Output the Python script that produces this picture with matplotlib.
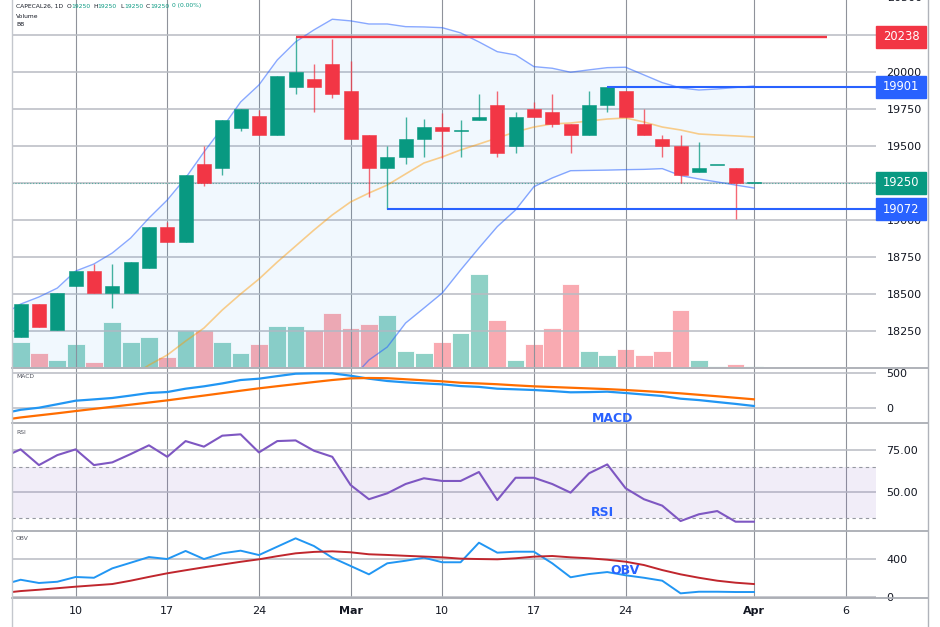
import numpy as np
import matplotlib.pyplot as plt
from matplotlib.lines import Line2D
from matplotlib.patches import Rectangle
from matplotlib.transforms import blended_transform_factory

W, H = 940, 627
X0, X1 = 12, 876          # plot area in pixels (left / right)
TXT = "#131722"
GREEN = "#089981"
RED = "#f23645"
BLUE = "#2962ff"
GRID_H = "#b8bbc2"
GRID_V = "#8f929a"

# ---------------- data ----------------
# candles: bar 0 = first visible session, bar 40 = Apr 1
opens = [18207, 18430, 18257, 18554, 18655, 18505, 18505, 18676, 18951, 18853,
         19376, 19349, 19624, 19700, 19574, 19899, 19950, 20052, 19874, 19576,
         19349, 19426, 19549, 19626, 19600, 19676, 19775, 19502, 19748, 19728,
         19649, 19574, 19777, 19874, 19649, 19549, 19500, 19324, 19374, 19353,
         19250]
highs = [18430, 18430, 18505, 18655, 18700, 18700, 18716, 18951, 18984, 19304,
         19502, 19676, 19748, 19743, 19973, 20238, 20054, 20221, 20074, 19576,
         19500, 19698, 19680, 19721, 19676, 19851, 19874, 19728, 19800, 19851,
         19649, 19872, 19901, 19874, 19748, 19576, 19576, 19527, 19374, 19353,
         19250]
lows = [18207, 18280, 18257, 18554, 18505, 18407, 18505, 18676, 18853, 18853,
        19230, 19304, 19601, 19574, 19574, 19853, 19730, 19826, 19550, 19153,
        19072, 19378, 19428, 19417, 19428, 19676, 19428, 19455, 19698, 19626,
        19455, 19574, 19728, 19698, 19574, 19428, 19252, 19324, 19374, 19005,
        19250]
closes = [18430, 18280, 18505, 18655, 18505, 18554, 18716, 18951, 18853, 19304,
          19252, 19676, 19748, 19574, 19973, 20000, 19899, 19849, 19550, 19349,
          19428, 19549, 19626, 19600, 19600, 19698, 19451, 19698, 19698, 19649,
          19574, 19777, 19901, 19698, 19574, 19502, 19302, 19353, 19374, 19250,
          19250]
volumes = [56, 31, 15, 50, 11, 99, 55, 65, 21, 81, 81, 55, 31, 50, 91, 91, 81,
           119, 86, 95, 114, 35, 31, 55, 75, 204, 104, 15, 51, 86, 183, 35, 27,
           40, 27, 35, 125, 15, 3, 7, 2]

# indicators start one bar earlier (bar -1, cut by the left edge)
bb_upper = [18358, 18432, 18480, 18540, 18655, 18703, 18777, 18878, 19013, 19135,
            19284, 19459, 19622, 19797, 19912, 20081, 20203, 20284, 20356, 20345,
            20324, 20324, 20306, 20304, 20299, 20264, 20203, 20137, 20115, 20036,
            20025, 19998, 20014, 20029, 20032, 19980, 19928, 19892, 19878, 19885,
            19895, 19905]
bb_basis = [17580, 17610, 17650, 17690, 17740, 17800, 17860, 17940, 18020, 18088,
            18182, 18270, 18392, 18500, 18601, 18716, 18824, 18932, 19034, 19122,
            19182, 19236, 19311, 19385, 19426, 19473, 19513, 19554, 19595, 19628,
            19649, 19655, 19669, 19682, 19689, 19662, 19628, 19608, 19581, 19574,
            19568, 19561]
bb_lower = [16800, 16780, 16760, 16720, 16700, 16700, 16710, 16730, 16800, 16880,
            16960, 17050, 17100, 17200, 17300, 17420, 17580, 17710, 17820, 17920,
            18054, 18142, 18304, 18405, 18507, 18662, 18811, 18955, 19068, 19225,
            19284, 19333, 19335, 19337, 19340, 19342, 19347, 19300, 19277, 19257,
            19236, 19216]
macd = [-85, -30, 0, 50, 101, 120, 140, 175, 212, 226, 274, 308, 350, 399, 418,
        455, 490, 495, 495, 461, 418, 385, 365, 350, 337, 312, 300, 274, 265, 255,
        240, 222, 225, 231, 212, 190, 169, 130, 110, 82, 55, 25]
signal = [-178, -140, -110, -80, -48, -17, 14, 44, 75, 106, 141, 175, 210, 245,
          279, 310, 340, 370, 399, 423, 428, 425, 410, 395, 380, 360, 350, 338,
          322, 308, 298, 288, 278, 268, 255, 240, 224, 207, 186, 165, 143, 121]
rsi = [70.5, 75.4, 66.1, 72.0, 75.4, 66.1, 67.7, 72.6, 77.8, 71.0, 80.3, 77.0,
       83.5, 84.3, 73.6, 80.3, 80.7, 74.6, 71.0, 54.3, 45.9, 49.4, 54.9, 58.3,
       56.7, 56.7, 62.0, 45.4, 58.6, 58.6, 54.9, 49.8, 61.2, 66.5, 52.4, 45.9,
       42.1, 33.0, 37.0, 38.9, 32.6, 32.6]
obv = [130, 185, 151, 164, 214, 206, 305, 364, 424, 403, 488, 403, 463, 491, 445,
       533, 621, 540, 417, 330, 242, 358, 385, 417, 369, 369, 575, 470, 480, 480,
       358, 211, 245, 266, 232, 206, 175, 42, 59, 59, 56, 56]
obv_ma = [45, 66, 80, 96, 112, 126, 140, 175, 215, 253, 285, 316, 345, 374, 400,
          433, 463, 478, 484, 474, 453, 446, 437, 429, 421, 407, 403, 400, 411,
          428, 435, 421, 411, 396, 375, 340, 287, 242, 206, 175, 154, 140]

# horizontal levels drawn on the chart
level_prices = [20238, 19901, 19072]
level_colors = [RED, BLUE, BLUE]
level_start = [15, 32, 20]
level_end = [44, 46.7, 46.7]
last_price = 19250

# right-axis price tags
tag_prices = [20238, 19901, 19250, 19072]
tag_colors = [RED, BLUE, GREEN, BLUE]

price_ticks = [18250, 18500, 18750, 19000, 19250, 19500, 19750, 20000, 20250]
# 19250 and 20250 sit under the price tags, so their labels stay hidden
price_labels = ["18250", "18500", "18750", "19000", "", "19500", "19750", "20000", ""]
tick_pos = [3, 8, 13, 18, 23, 28, 33, 40, 45]
tick_labels = ["10", "17", "24", "Mar", "10", "17", "24", "Apr", "6"]
rsi_band = (35, 65)

# ---------------- figure ----------------
fig = plt.figure(figsize=(W / 100, H / 100), dpi=100)
fig.patch.set_facecolor("white")


def panel(top, bottom):
    return fig.add_axes([X0 / W, 1 - bottom / H, (X1 - X0) / W, (bottom - top) / H])


XLIM = (-0.47, 46.66)
ax_p = panel(0, 367)
ax_m = panel(368, 423)
ax_r = panel(423, 531)
ax_o = panel(531, 598)

# volume behind the price panel
ax_v = ax_p.twinx()
ax_v.set_zorder(0)
ax_p.set_zorder(1)
ax_p.patch.set_visible(False)
ax_v.set_ylim(0, 807)
ax_v.set_yticks([])
for s in ax_v.spines.values():
    s.set_visible(False)

for ax in (ax_p, ax_m, ax_r, ax_o):
    ax.set_xlim(*XLIM)
    for s in ax.spines.values():
        s.set_visible(False)
    ax.set_xticks(tick_pos)
    ax.tick_params(axis="x", length=0, labelbottom=False)
    ax.grid(axis="x", color=GRID_V, lw=0.8)
    ax.grid(axis="y", color=GRID_H, lw=1.1)
    ax.yaxis.tick_right()
    ax.tick_params(axis="y", length=0, pad=7.5, labelsize=8, labelcolor=TXT,
                   labelleft=False, labelright=True)
    ax.set_axisbelow(True)

xb = np.arange(len(opens))
xi = np.arange(-1, len(opens))
o = np.array(opens)
c = np.array(closes)
up = c >= o
cols = np.where(up, GREEN, RED)
vcols = [(8/255, 153/255, 129/255, 0.45) if u else (242/255, 54/255, 69/255, 0.42) for u in up]
ax_v.bar(xb, volumes, width=0.97, color=vcols, edgecolor="white", lw=0.6)

# Bollinger bands
ax_p.fill_between(xi, bb_lower, bb_upper, color="#2196f3", alpha=0.06, lw=0, zorder=1)
ax_p.plot(xi, bb_upper, color=BLUE, alpha=0.55, lw=1.0, zorder=2)
ax_p.plot(xi, bb_lower, color=BLUE, alpha=0.55, lw=1.0, zorder=2)
ax_p.plot(xi, bb_basis, color="#ff9800", alpha=0.45, lw=1.2, zorder=2)

# candles
ax_p.vlines(xb, lows, highs, color=cols, lw=1.0, alpha=0.75, zorder=4)
body_bot = np.minimum(o, c)
body_h = np.maximum(np.abs(c - o), 6)
ax_p.bar(xb, body_h, bottom=body_bot, width=0.76, color=cols, edgecolor=cols,
         lw=0.4, zorder=5)

# level lines
for p, col, s, e in zip(level_prices, level_colors, level_start, level_end):
    ax_p.hlines(p, s, e, color=col, lw=1.7 if col == RED else 1.5, zorder=6)
ax_p.axhline(last_price, color=GREEN, lw=0.8, ls=":", alpha=0.6, zorder=3)

ax_p.set_ylim(18007, 20486)
ax_p.set_yticks(price_ticks)
ax_p.set_yticklabels(price_labels)

blend = blended_transform_factory(ax_p.transAxes, ax_p.transData)
ax_p.text(1 + 10.7 / (X1 - X0), 20500, "20500", transform=blend, ha="left",
          va="center", fontsize=8, color=TXT, clip_on=False)
box_w = 50 / (X1 - X0)
for p, col in zip(tag_prices, tag_colors):
    ax_p.add_patch(Rectangle((1.0, p - 74), box_w, 148, transform=blend,
                             facecolor=col, edgecolor=col, clip_on=False, zorder=10))
    ax_p.text(1 + box_w / 2, p, str(p), transform=blend, ha="center", va="center",
              color="white", fontsize=8.3, zorder=11, clip_on=False)

# MACD
ax_m.plot(xi, macd, color="#2196f3", lw=1.6)
ax_m.plot(xi, signal, color="#ff6d00", lw=1.6)
ax_m.set_ylim(-220, 572)
ax_m.set_yticks([0, 500])

# RSI
ax_r.axhspan(*rsi_band, color="#7e57c2", alpha=0.1, lw=0)
for lv in rsi_band:
    ax_r.axhline(lv, color="#9598a1", lw=0.8, ls=(0, (3, 3)))
ax_r.plot(xi, rsi, color="#7e57c2", lw=1.5)
ax_r.set_ylim(27.1, 91.0)
ax_r.set_yticks([50, 75])
ax_r.set_yticklabels(["50.00", "75.00"])

# OBV
ax_o.plot(xi, obv, color="#2196f3", lw=1.4)
ax_o.plot(xi, obv_ma, color="#c0262d", lw=1.4)
ax_o.set_ylim(-7, 698)
ax_o.set_yticks([0, 400])
ax_o.tick_params(axis="x", labelbottom=True, labelsize=8, labelcolor=TXT, pad=6)
ax_o.set_xticklabels(tick_labels)
for lab in ax_o.get_xticklabels():
    if lab.get_text() in ("Mar", "Apr"):
        lab.set_fontweight("bold")


# frame lines and separators
def fig_line(x0, y0, x1, y1, color="#a9acb3", lw=1.3):
    fig.add_artist(Line2D([x0 / W, x1 / W], [1 - y0 / H, 1 - y1 / H],
                          transform=fig.transFigure, color=color, lw=lw))


for y in (367.5, 423, 531, 598):
    fig_line(X0, y, 928, y)
fig_line(X0, 0, X0, H, color="#c4c7cd", lw=1.0)
fig_line(928, 0, 928, H, color="#b0b3ba", lw=1.0)


def ftext(x, y, s, **kw):
    fig.text(x / W, 1 - y / H, s, **kw)


# header
hdr = dict(fontsize=4.3, va="center", ha="left")
ftext(16, 6, "CAPECAL26, 1D", color=TXT, **hdr)
for lx, letter, vx in ((66.5, "O", 71.5), (93, "H", 97.5), (120, "L", 124),
                       (145.5, "C", 150.5)):
    ftext(lx, 6, letter, color=TXT, **hdr)
    ftext(vx, 6, "19250", color=GREEN, **hdr)
ftext(171.5, 6, "0 (0.00%)", color=GREEN, **hdr)
ftext(16, 16, "Volume", color=TXT, **hdr)
ftext(16, 25, "BB", color=TXT, **hdr)
ftext(16, 376, "MACD", color="#50535e", **hdr)
ftext(16, 432, "RSI", color="#50535e", **hdr)
ftext(16, 539, "OBV", color="#50535e", **hdr)

big = dict(fontsize=9, fontweight="bold", color=BLUE, ha="center", va="center")
ftext(613, 418, "MACD", **big)
ftext(602.5, 513, "RSI", **big)
ftext(625, 571, "OBV", **big)

fig.savefig("out.png", dpi=100)
